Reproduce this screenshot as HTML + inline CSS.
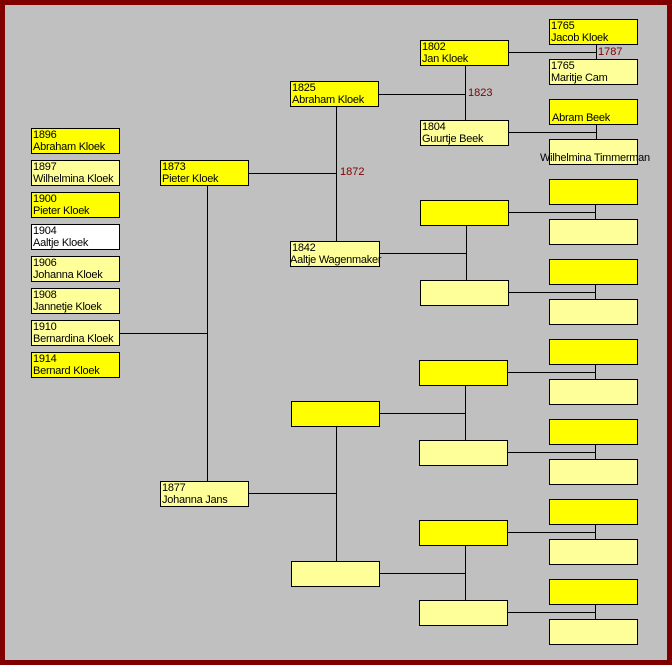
<!DOCTYPE html>
<html><head><style>
body{margin:0;width:672px;height:665px;overflow:hidden;}
#f{position:absolute;left:0;top:0;width:662px;height:655px;border:5px solid #800000;background:#c0c0c0;}
.b{position:absolute;width:87px;height:24px;border:1px solid #000;font:11px/12px "Liberation Sans",Arial,sans-serif;letter-spacing:-0.25px;color:#000;padding:0;white-space:nowrap;}
.b span{display:block;padding-left:1px;}
.y{background:#ffff00}.l{background:#ffff99}.w{background:#fff}
.r{position:absolute;font:11px "Liberation Sans",Arial,sans-serif;color:#800000;}
svg{position:absolute;left:0;top:0}
</style></head><body>
<div id="f"></div>
<svg width="672" height="665" stroke="#000" stroke-width="1" shape-rendering="crispEdges">
<line x1="119" y1="333.5" x2="207" y2="333.5"/>
<line x1="207.5" y1="185" x2="207.5" y2="481"/>
<line x1="248" y1="173.5" x2="336" y2="173.5"/>
<line x1="248" y1="493.5" x2="336" y2="493.5"/>
<line x1="336.5" y1="106" x2="336.5" y2="241"/>
<line x1="336.5" y1="426" x2="336.5" y2="561"/>
<line x1="378" y1="94.5" x2="465" y2="94.5"/>
<line x1="465.5" y1="65" x2="465.5" y2="120"/>
<line x1="379" y1="253.5" x2="466" y2="253.5"/>
<line x1="466.5" y1="225" x2="466.5" y2="280"/>
<line x1="379" y1="413.5" x2="465" y2="413.5"/>
<line x1="465.5" y1="385" x2="465.5" y2="440"/>
<line x1="379" y1="573.5" x2="465" y2="573.5"/>
<line x1="465.5" y1="545" x2="465.5" y2="600"/>
<line x1="508" y1="52.5" x2="596" y2="52.5"/><line x1="596.5" y1="44" x2="596.5" y2="59"/>
<line x1="508" y1="132.5" x2="596" y2="132.5"/><line x1="596.5" y1="124" x2="596.5" y2="139"/>
<line x1="508" y1="212.5" x2="595" y2="212.5"/><line x1="595.5" y1="204" x2="595.5" y2="219"/>
<line x1="508" y1="292.5" x2="595" y2="292.5"/><line x1="595.5" y1="284" x2="595.5" y2="299"/>
<line x1="507" y1="372.5" x2="595" y2="372.5"/><line x1="595.5" y1="364" x2="595.5" y2="379"/>
<line x1="507" y1="452.5" x2="595" y2="452.5"/><line x1="595.5" y1="444" x2="595.5" y2="459"/>
<line x1="507" y1="532.5" x2="595" y2="532.5"/><line x1="595.5" y1="524" x2="595.5" y2="539"/>
<line x1="507" y1="612.5" x2="595" y2="612.5"/><line x1="595.5" y1="604" x2="595.5" y2="619"/>
</svg>
<div class="r" style="left:340px;top:166px">1872</div>
<div class="r" style="left:468px;top:87px">1823</div>
<div class="r" style="left:598px;top:46px">1787</div>

<div class="b y" style="left:31px;top:128px"><span>1896</span><span>Abraham Kloek</span></div>
<div class="b l" style="left:31px;top:160px"><span>1897</span><span>Wilhelmina Kloek</span></div>
<div class="b y" style="left:31px;top:192px"><span>1900</span><span>Pieter Kloek</span></div>
<div class="b w" style="left:31px;top:224px"><span>1904</span><span>Aaltje Kloek</span></div>
<div class="b l" style="left:31px;top:256px"><span>1906</span><span>Johanna Kloek</span></div>
<div class="b l" style="left:31px;top:288px"><span>1908</span><span>Jannetje Kloek</span></div>
<div class="b l" style="left:31px;top:320px"><span>1910</span><span>Bernardina Kloek</span></div>
<div class="b y" style="left:31px;top:352px"><span>1914</span><span>Bernard Kloek</span></div>

<div class="b y" style="left:160px;top:160px"><span>1873</span><span>Pieter Kloek</span></div>
<div class="b l" style="left:160px;top:481px"><span>1877</span><span>Johanna Jans</span></div>

<div class="b y" style="left:290px;top:81px"><span>1825</span><span>Abraham Kloek</span></div>
<div class="b l" style="left:290px;top:241px;width:88px"><span>1842</span><span style="margin-left:-2px">Aaltje Wagenmaker</span></div>
<div class="b y" style="left:291px;top:401px"></div>
<div class="b l" style="left:291px;top:561px"></div>

<div class="b y" style="left:420px;top:40px"><span>1802</span><span>Jan Kloek</span></div>
<div class="b l" style="left:420px;top:120px"><span>1804</span><span>Guurtje Beek</span></div>
<div class="b y" style="left:420px;top:200px"></div>
<div class="b l" style="left:420px;top:280px"></div>
<div class="b y" style="left:419px;top:360px"></div>
<div class="b l" style="left:419px;top:440px"></div>
<div class="b y" style="left:419px;top:520px"></div>
<div class="b l" style="left:419px;top:600px"></div>

<div class="b y" style="left:549px;top:19px"><span>1765</span><span>Jacob Kloek</span></div>
<div class="b l" style="left:549px;top:59px"><span>1765</span><span>Maritje Cam</span></div>
<div class="b y" style="left:549px;top:99px"><span>&nbsp;</span><span style="padding-left:2px">Abram Beek</span></div>
<div class="b l" style="left:549px;top:139px"><span>&nbsp;</span><span style="margin-left:-11px">Wilhelmina Timmerman</span></div>
<div class="b y" style="left:549px;top:179px"></div>
<div class="b l" style="left:549px;top:219px"></div>
<div class="b y" style="left:549px;top:259px"></div>
<div class="b l" style="left:549px;top:299px"></div>
<div class="b y" style="left:549px;top:339px"></div>
<div class="b l" style="left:549px;top:379px"></div>
<div class="b y" style="left:549px;top:419px"></div>
<div class="b l" style="left:549px;top:459px"></div>
<div class="b y" style="left:549px;top:499px"></div>
<div class="b l" style="left:549px;top:539px"></div>
<div class="b y" style="left:549px;top:579px"></div>
<div class="b l" style="left:549px;top:619px"></div>
</body></html>
